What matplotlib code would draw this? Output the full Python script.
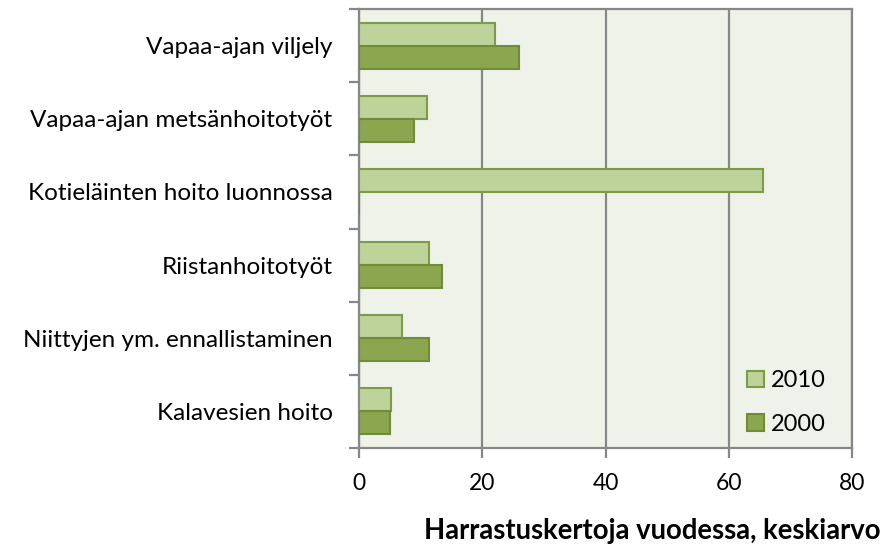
import matplotlib
matplotlib.use("Agg")
import matplotlib.pyplot as plt
import numpy as np
from matplotlib.patches import Patch

categories = ["Vapaa-ajan viljely", "Vapaa-ajan metsänhoitotyöt",
              "Kotieläinten hoito luonnossa", "Riistanhoitotyöt",
              "Niittyjen ym. ennallistaminen", "Kalavesien hoito"]
values_2010 = [22.1, 11.1, 65.5, 11.4, 7.0, 5.2]
values_2000 = [25.9, 8.9, 0.0, 13.4, 11.4, 5.1]
series_labels = ["2010", "2000"]
xticks = [0, 20, 40, 60, 80]

plt.rcParams['font.family'] = ['Lato', 'DejaVu Sans']

fig = plt.figure(figsize=(8.94, 5.46), dpi=100)
ax = fig.add_axes([359/894, 1-448/546, (852-359)/894, (448-9)/546])
ax.set_facecolor("#EFF2E9")

n = len(categories)
centers = np.arange(n)[::-1] + 0.5
bh = 0.315
c10, e10 = "#BDD39A", "#7D9C48"
c00, e00 = "#8BA64E", "#6E8C3A"
ax.barh(centers + bh/2, values_2010, height=bh, color=c10, edgecolor=e10, linewidth=1.5, zorder=3)
ax.barh(centers - bh/2, values_2000, height=bh, color=c00, edgecolor=e00, linewidth=1.5, zorder=3)

ax.set_xlim(0, 80)
ax.set_ylim(0, n)
ax.set_xticks(xticks)
ax.set_xticklabels([str(t) for t in xticks], fontsize=16.5)
ax.xaxis.grid(True, color="#878787", linewidth=1.6, zorder=1)
ax.set_axisbelow(True)

ax.set_yticks(np.arange(n + 1))
ax.set_yticklabels([])
ax.set_yticks(centers, minor=True)
ax.set_yticklabels(categories, minor=True, fontsize=17.5)
ax.tick_params(axis='y', which='minor', length=0, pad=19)
ax.tick_params(axis='y', which='major', length=7, width=1.6, color="#878787", direction='out')
ax.tick_params(axis='x', length=7, width=1.6, color="#878787", direction='out', pad=11)

for s in ax.spines.values():
    s.set_color("#878787")
    s.set_linewidth(1.6)

handles = [Patch(facecolor=c10, edgecolor=e10, linewidth=1.5),
           Patch(facecolor=c00, edgecolor=e00, linewidth=1.5)]
ax.legend(handles, series_labels, loc="lower left", bbox_to_anchor=(0.787, 0.03),
          frameon=False, fontsize=17, handlelength=0.7, handleheight=0.7,
          handletextpad=0.3, labelspacing=0.95, borderpad=0, borderaxespad=0)

fig.text(880/894, 1-531/546, "Harrastuskertoja vuodessa, keskiarvo", ha="right", va="center",
         fontsize=19.8, fontweight="bold")

fig.savefig("out.png", dpi=100, facecolor="white")
